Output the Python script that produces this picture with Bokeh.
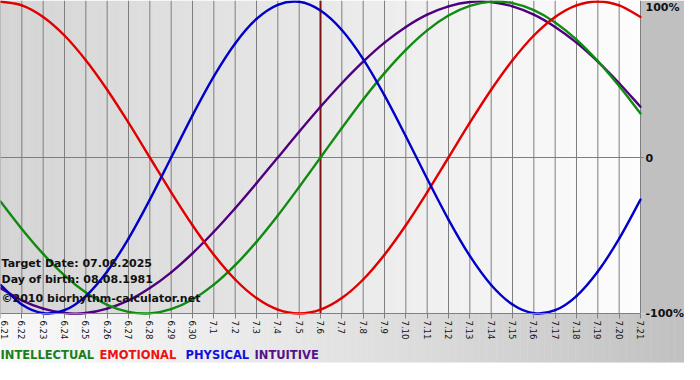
import numpy as np
from bokeh.plotting import figure
from bokeh.models import Range1d, LinearAxis, FixedTicker
from bokeh.core.properties import value
from bokeh.embed import file_html
from bokeh.resources import INLINE

# ---------------- data ----------------
dates = ["6.21", "6.22", "6.23", "6.24", "6.25", "6.26", "6.27", "6.28", "6.29", "6.30",
         "7.1", "7.2", "7.3", "7.4", "7.5", "7.6", "7.7", "7.8", "7.9", "7.10",
         "7.11", "7.12", "7.13", "7.14", "7.15", "7.16", "7.17", "7.18", "7.19", "7.20", "7.21"]

intellectual = [-0.282, -0.458, -0.618, -0.756, -0.866, -0.945, -0.990, -0.999, -0.972, -0.910,
                -0.815, -0.690, -0.541, -0.372, -0.189, 0.000, 0.189, 0.372, 0.541, 0.690,
                0.815, 0.910, 0.972, 0.999, 0.990, 0.945, 0.866, 0.756, 0.618, 0.458, 0.282]
emotional = [1.000, 0.975, 0.901, 0.782, 0.623, 0.434, 0.223, 0.000, -0.223, -0.434,
             -0.623, -0.782, -0.901, -0.975, -1.000, -0.975, -0.901, -0.782, -0.623, -0.434,
             -0.223, 0.000, 0.223, 0.434, 0.623, 0.782, 0.901, 0.975, 1.000, 0.975, 0.901]
physical = [-0.817, -0.942, -0.998, -0.979, -0.888, -0.731, -0.520, -0.270, 0.000, 0.270,
            0.520, 0.731, 0.888, 0.979, 0.998, 0.942, 0.817, 0.631, 0.398, 0.136,
            -0.136, -0.398, -0.631, -0.817, -0.942, -0.998, -0.979, -0.888, -0.731, -0.520, -0.270]
intuitive = [-0.837, -0.916, -0.969, -0.997, -0.997, -0.969, -0.916, -0.837, -0.736, -0.614,
             -0.476, -0.325, -0.165, 0.000, 0.165, 0.325, 0.476, 0.614, 0.736, 0.837,
             0.916, 0.969, 0.997, 0.997, 0.969, 0.916, 0.837, 0.736, 0.614, 0.476, 0.325]

series_names = ["INTELLECTUAL", "EMOTIONAL", "PHYSICAL", "INTUITIVE"]
series_colors = ["#118a11", "#e00000", "#0000c8", "#50007f"]
legend_colors = ["#1a7f1a", "#ee1111", "#1111dd", "#55118a"]

target_index = 15
right_labels = ["100%", "0", "-100%"]
info_lines = ["Target Date: 07.06.2025", "Day of birth: 08.08.1981",
              "\u00a92010 biorhythm-calculator.net"]

# ---------------- layout ----------------
W, H = 684, 364
PLOT_W = 640
n_days = len(dates) - 1
px_day = PLOT_W / n_days
x_end = W / px_day
PY = 156.0                      # pixels per unit of value


def yv(px):                     # figure pixel (from top) -> value
    return 1 - (px - 1) / PY


y_top = yv(0)
y_bot = yv(H)
days = list(range(len(dates)))

p = figure(width=W, height=H, x_range=Range1d(0, x_end), y_range=Range1d(y_bot, y_top),
           output_backend="svg", toolbar_location=None,
           x_axis_location=None, y_axis_location=None, min_border=0)
p.title.visible = False
p.grid.visible = False
p.outline_line_color = None
p.background_fill_color = "white"
p.border_fill_color = "white"


def hexcol(c):
    return "#%02x%02x%02x" % tuple(int(round(v)) for v in c)


# plot area gradient (grey -> white)
n = 200
edges = np.linspace(0, n_days, n + 1)
t = (edges[:-1] + edges[1:]) / 2 / n_days
c0, c1 = np.array([0xd4] * 3), np.array([0xfd] * 3)
cols = [hexcol(c0 + (c1 - c0) * ti) for ti in t]
p.quad(left=edges[:-1], right=edges[1:] + 0.02, bottom=-1, top=y_top,
       fill_color=cols, line_color=None)

# right margin
p.quad(left=n_days, right=x_end, bottom=-1, top=y_top, fill_color="#c0c0c0", line_color=None)

# bottom band gradient (white -> grey)
edges2 = np.linspace(0, x_end, n + 1)
t2 = ((edges2[:-1] + edges2[1:]) / 2 / x_end) ** 1.4
c2, c3 = np.array([0xf7] * 3), np.array([0xc0] * 3)
cols2 = [hexcol(c2 + (c3 - c2) * ti) for ti in t2]
p.quad(left=edges2[:-1], right=edges2[1:] + 0.02, bottom=yv(362), top=-1,
       fill_color=cols2, line_color=None)

# grid
p.segment(x0=days, y0=-1, x1=days, y1=y_top, line_color="#7e7e7e", line_width=1)
p.segment(x0=[0], y0=[0], x1=[n_days + 0.15], y1=[0], line_color="#7e7e7e", line_width=1)

# target date line
p.segment(x0=[target_index], y0=[-1], x1=[target_index], y1=[y_top],
          line_color="#7a1414", line_width=2)


# curves: smooth Catmull-Rom rendering of the daily values via bezier segments
def smooth_segments(xs, ys):
    xs = np.asarray(xs, float)
    ys = np.asarray(ys, float)
    xp = np.concatenate([[2 * xs[0] - xs[1]], xs, [2 * xs[-1] - xs[-2]]])
    yp = np.concatenate([[2 * ys[0] - ys[1]], ys, [2 * ys[-1] - ys[-2]]])
    x0, y0 = xp[1:-2], yp[1:-2]
    x1, y1 = xp[2:-1], yp[2:-1]
    cx0 = x0 + (xp[2:-1] - xp[:-3]) / 6
    cy0 = y0 + (yp[2:-1] - yp[:-3]) / 6
    cx1 = x1 - (xp[3:] - xp[1:-2]) / 6
    cy1 = y1 - (yp[3:] - yp[1:-2]) / 6
    return dict(x0=x0, y0=y0, x1=x1, y1=y1, cx0=cx0, cy0=cy0, cx1=cx1, cy1=cy1)


for vals, col in [(intuitive, series_colors[3]), (intellectual, series_colors[0]),
                  (emotional, series_colors[1]), (physical, series_colors[2])]:
    p.bezier(**smooth_segments(days, vals), line_color=col, line_width=2.4, line_cap="round")

# date axis at the bottom of the plot area
xaxis = LinearAxis(fixed_location=-1, bounds=(0, n_days), ticker=FixedTicker(ticks=days),
                   major_label_overrides={i: d for i, d in enumerate(dates)},
                   major_label_orientation=-np.pi / 2,
                   major_tick_out=5, major_tick_in=0, minor_tick_line_color=None,
                   axis_line_color="#808080", major_tick_line_color="#808080",
                   major_label_text_font="DejaVu Sans", major_label_text_font_size="8.5px",
                   major_label_text_color="#111111", major_label_standoff=2)
p.add_layout(xaxis, "below")

# right labels
p.text(x=[n_days] * 3, y=[yv(7), 0, -1], text=right_labels, x_offset=5,
       text_font=value("DejaVu Sans"), text_font_style="bold", text_font_size="11px",
       text_baseline="middle", text_align="left", text_color="#111111")

# info texts
p.text(x=[0.05] * 3, y=[yv(263), yv(279), yv(298)], text=info_lines,
       text_font=value("DejaVu Sans"), text_font_style="bold", text_font_size="11px",
       text_baseline="middle", text_align="left", text_color="#111111")

# legend
leg_px = [0, 99, 185, 254]
p.text(x=[v / px_day for v in leg_px], y=[yv(354)] * 4, text=series_names,
       text_color=legend_colors,
       text_font=value("DejaVu Sans"), text_font_style="bold", text_font_size="11.5px",
       text_baseline="middle", text_align="left")

open("out.html", "w").write(file_html(p, INLINE))
